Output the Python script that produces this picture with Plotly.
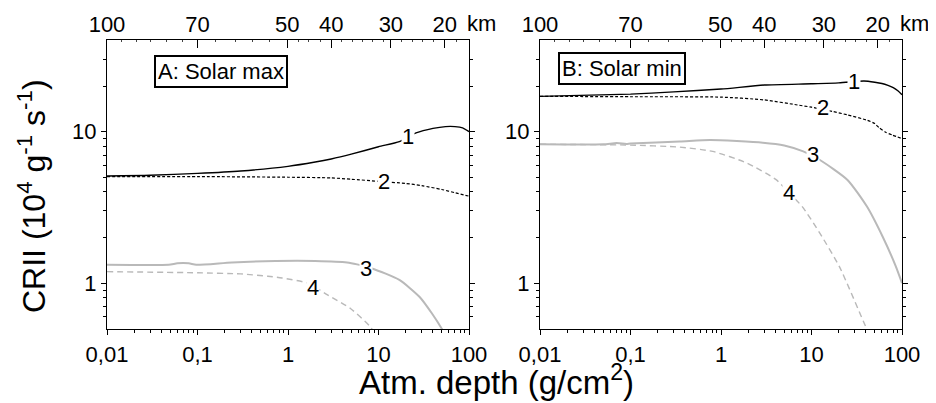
import math
import plotly.graph_objects as go

# ---------------- data ----------------
# Panel A: Solar max
depth_A1 = [0.01, 0.03, 0.1, 0.3, 1, 2, 3, 5, 10, 17, 26, 40, 55, 70, 85, 100]
crii_A1 = [5.1, 5.15, 5.3, 5.5, 5.9, 6.3, 6.6, 7.1, 7.95, 8.6, 9.8, 10.5, 10.8, 10.8, 10.6, 10.0]

depth_A2 = [0.01, 0.1, 1, 3, 5, 10, 20, 30, 50, 70, 100]
crii_A2 = [5.05, 5.05, 5.0, 4.95, 4.85, 4.7, 4.55, 4.4, 4.15, 3.95, 3.75]

depth_A3 = [0.01, 0.048, 0.06, 0.08, 0.097, 0.24, 0.73, 2.0, 4.5, 5.8, 8.5, 17, 28.5, 39, 50, 55]
crii_A3 = [1.32, 1.32, 1.35, 1.35, 1.32, 1.37, 1.40, 1.40, 1.37, 1.33, 1.25, 1.05, 0.81, 0.63, 0.50, 0.45]

depth_A4 = [0.01, 0.1, 0.3, 0.6, 0.86, 1.65, 2.7, 4.9, 8.0, 9.0]
crii_A4 = [1.19, 1.17, 1.15, 1.11, 1.08, 1.0, 0.84, 0.68, 0.52, 0.47]

# Panel B: Solar min
depth_B1 = [0.01, 0.1, 0.3, 1, 3, 10, 20, 30, 38, 50, 60, 70, 80, 90, 100]
crii_B1 = [17.1, 17.7, 18.3, 19.1, 20.3, 20.7, 21.0, 21.4, 21.6, 21.2, 20.8, 20.2, 19.5, 18.6, 17.5]

depth_B2 = [0.01, 0.1, 1, 3, 7, 10, 17, 25, 41, 50, 56, 66, 78, 100]
crii_B2 = [17.1, 17.0, 16.9, 16.2, 15.0, 14.5, 13.6, 12.9, 11.9, 11.3, 10.6, 9.9, 9.5, 9.0]

depth_B3 = [0.01, 0.05, 0.07, 0.09, 0.1, 0.35, 0.76, 2.9, 5, 8.1, 12.4, 25, 41, 61, 85, 100]
crii_B3 = [8.25, 8.25, 8.4, 8.3, 8.35, 8.6, 8.8, 8.45, 8.1, 7.4, 6.5, 4.8, 3.2, 2.03, 1.3, 1.0]

depth_B4 = [0.01, 0.1, 0.35, 0.81, 1.94, 4.1, 5.5, 7.9, 12.4, 20.4, 37.4, 42]
crii_B4 = [8.25, 8.15, 7.9, 7.4, 6.2, 4.8, 4.0, 3.2, 2.13, 1.28, 0.56, 0.48]

# axis ticks
x_tickvals = [0.01, 0.1, 1, 10, 100]
x_ticktext = ["0,01", "0,1", "1", "10", "100"]
y_tickvals = [1, 10]
y_ticktext = ["1", "10"]
km_depths = [0.01, 0.1, 0.98, 3.0, 13.7, 54.0]
km_labels = ["100", "70", "50", "40", "30", "20"]
# small altitude tick marks along the top edge (depth positions)
km_minor_depths = [0.0145, 0.021, 0.03, 0.045, 0.068, 0.16, 0.26, 0.41, 0.63,
                   1.3, 1.7, 2.3, 3.9, 5.1, 6.6, 8.6, 11.5, 18.0, 23.5, 31.0, 41.0, 72.0]

# curve number labels: (depth, value, text)
labels_A = [(21.2, 9.27, "1"), (11.5, 4.67, "2"), (7.3, 1.24, "3"), (1.89, 0.93, "4")]
labels_B = [(29.5, 21.4, "1"), (13.4, 14.4, "2"), (10.4, 7.04, "3"), (5.6, 3.95, "4")]

# ---------------- figure ----------------
W, H = 936, 403
OFF = 8  # page body margin offset of the plot div in the browser
FONT = "Liberation Sans, Arial, sans-serif"
BLACK = "#000000"
GRAY = "#b9b9b9"

def px_x(p):
    return (p - OFF) / W

def px_y(p):
    return 1 - (p - OFF) / H

fig = go.Figure()

def add_curves(xa, ya, d1, c1, d2, c2, d3, c3, d4, c4):
    fig.add_trace(go.Scatter(x=d3, y=c3, mode="lines", xaxis=xa, yaxis=ya,
                             line=dict(color=GRAY, width=2, shape="spline", smoothing=0.6),
                             hoverinfo="skip", showlegend=False))
    fig.add_trace(go.Scatter(x=d4, y=c4, mode="lines", xaxis=xa, yaxis=ya,
                             line=dict(color=GRAY, width=1.4, dash="6px,4px", shape="spline", smoothing=0.6),
                             hoverinfo="skip", showlegend=False))
    fig.add_trace(go.Scatter(x=d2, y=c2, mode="lines", xaxis=xa, yaxis=ya,
                             line=dict(color=BLACK, width=1.2, dash="3px,2px", shape="spline", smoothing=0.6),
                             hoverinfo="skip", showlegend=False))
    fig.add_trace(go.Scatter(x=d1, y=c1, mode="lines", xaxis=xa, yaxis=ya,
                             line=dict(color=BLACK, width=1.4, shape="spline", smoothing=0.6),
                             hoverinfo="skip", showlegend=False))

add_curves("x", "y", depth_A1, crii_A1, depth_A2, crii_A2, depth_A3, crii_A3, depth_A4, crii_A4)
add_curves("x2", "y2", depth_B1, crii_B1, depth_B2, crii_B2, depth_B3, crii_B3, depth_B4, crii_B4)

# invisible traces to register the top (altitude) axes
fig.add_trace(go.Scatter(x=[0.01, 100], y=[1, 1], xaxis="x3", yaxis="y", mode="lines",
                         line=dict(width=0), opacity=0, hoverinfo="skip", showlegend=False))
fig.add_trace(go.Scatter(x=[0.01, 100], y=[1, 1], xaxis="x4", yaxis="y2", mode="lines",
                         line=dict(width=0), opacity=0, hoverinfo="skip", showlegend=False))

x_minor = [m * 10 ** e for e in range(-2, 2) for m in range(2, 10)]
y_minor = [0.6, 0.7, 0.8, 0.9] + [m for m in range(2, 10)] + [20, 30]

y_range = [-0.303, 1.605]
dom_y = [px_y(329), px_y(40)]
dom_xA = [px_x(107), px_x(469)]
dom_xB = [px_x(540), px_x(902)]

tickfont = dict(family=FONT, size=22, color=BLACK)

def xaxis_bottom(dom, anchor):
    return dict(domain=dom, anchor=anchor, type="log", range=[-2, 2], automargin=False,
                tickmode="array", tickvals=x_tickvals, ticktext=x_ticktext,
                ticks="outside", ticklen=5, tickwidth=1.2, tickcolor=BLACK,
                minor=dict(tickmode="array", tickvals=x_minor, ticks="outside",
                           ticklen=3, tickwidth=1, tickcolor=BLACK, showgrid=False),
                showline=True, linecolor=BLACK, linewidth=1.4, mirror=True,
                showgrid=False, zeroline=False, tickfont=tickfont)

def xaxis_top(overlay, anchor):
    return dict(overlaying=overlay, anchor=anchor, side="top", type="log", range=[-2, 2],
                automargin=False, ticklabelstandoff=3,
                tickmode="array", tickvals=km_depths, ticktext=km_labels,
                ticks="inside", ticklen=8, tickwidth=1.2, tickcolor=BLACK,
                minor=dict(tickmode="array", tickvals=km_minor_depths, ticks="inside",
                           ticklen=2, tickwidth=1, tickcolor="#444444", showgrid=False),
                showline=False, showgrid=False, zeroline=False, tickfont=tickfont)

def yaxis(dom, anchor):
    return dict(domain=dom, anchor=anchor, type="log", range=y_range, automargin=False,
                tickmode="array", tickvals=y_tickvals, ticktext=y_ticktext,
                ticks="outside", ticklen=5, tickwidth=1.2, tickcolor=BLACK,
                minor=dict(tickmode="array", tickvals=y_minor, ticks="outside",
                           ticklen=3, tickwidth=1, tickcolor=BLACK, showgrid=False),
                showline=True, linecolor=BLACK, linewidth=1.4, mirror="ticks",
                showgrid=False, zeroline=False, tickfont=tickfont)

annotations = []

def label_ann(xref, yref, d, v, t):
    return dict(x=math.log10(d), y=math.log10(v), xref=xref, yref=yref, text=t,
                showarrow=False, font=dict(family=FONT, size=22, color=BLACK),
                bgcolor="white", borderpad=0, xanchor="center", yanchor="middle")

for d, v, t in labels_A:
    annotations.append(label_ann("x", "y", d, v, t))
for d, v, t in labels_B:
    annotations.append(label_ann("x2", "y2", d, v, t))

# boxed panel titles
annotations.append(dict(x=px_x(221), y=px_y(72), xref="paper", yref="paper", text="A: Solar max",
                        showarrow=False, font=dict(family=FONT, size=22, color=BLACK),
                        bgcolor="white", bordercolor=BLACK, borderwidth=2, borderpad=2,
                        xanchor="center", yanchor="middle"))
annotations.append(dict(x=px_x(622), y=px_y(68.5), xref="paper", yref="paper", text="B: Solar min",
                        showarrow=False, font=dict(family=FONT, size=22, color=BLACK),
                        bgcolor="white", bordercolor=BLACK, borderwidth=2, borderpad=2,
                        xanchor="center", yanchor="middle"))

# "km" units after the top tick labels
annotations.append(dict(x=px_x(481), y=px_y(23), xref="paper", yref="paper", text="km",
                        showarrow=False, font=dict(family=FONT, size=22, color=BLACK),
                        xanchor="center", yanchor="middle"))
annotations.append(dict(x=px_x(914), y=px_y(23), xref="paper", yref="paper", text="km",
                        showarrow=False, font=dict(family=FONT, size=22, color=BLACK),
                        xanchor="center", yanchor="middle"))

# axis titles
annotations.append(dict(x=px_x(32), y=px_y(196), xref="paper", yref="paper",
                        text="CRII (10<sup>4</sup> g<sup>-1</sup> s<sup>-1</sup>)",
                        textangle=-90, showarrow=False,
                        font=dict(family=FONT, size=32, color=BLACK),
                        xanchor="center", yanchor="middle"))
annotations.append(dict(x=px_x(496), y=px_y(380), xref="paper", yref="paper",
                        text="Atm. depth (g/cm<sup>2</sup>)", showarrow=False,
                        font=dict(family=FONT, size=33, color=BLACK),
                        xanchor="center", yanchor="middle"))

fig.update_layout(
    width=W, height=H,
    margin=dict(l=0, r=0, t=0, b=0, pad=0, autoexpand=False),
    paper_bgcolor="white", plot_bgcolor="white",
    font=dict(family=FONT, color=BLACK),
    showlegend=False,
    xaxis=xaxis_bottom(dom_xA, "y"),
    yaxis=yaxis(dom_y, "x"),
    xaxis2=xaxis_bottom(dom_xB, "y2"),
    yaxis2=yaxis(dom_y, "x2"),
    xaxis3=xaxis_top("x", "y"),
    xaxis4=xaxis_top("x2", "y2"),
    annotations=annotations,
)

fig.write_html("out.html")
